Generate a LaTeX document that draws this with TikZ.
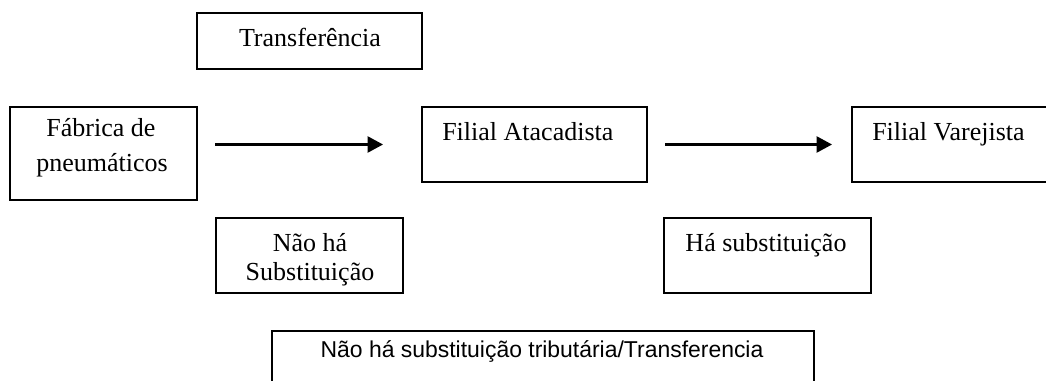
\documentclass[tikz,border=0pt]{standalone}
\usepackage{fontspec}
\setmainfont{Liberation Serif}
\newfontfamily\sansf{Liberation Sans}
\usetikzlibrary{arrows.meta}
\begin{document}
\begin{tikzpicture}[x=0.75pt,y=-0.75pt,
  box/.style={draw=black,line width=1.3pt,rectangle,inner sep=0pt,outer sep=0pt,anchor=north west},
  lbl/.style={inner sep=0pt,anchor=base,font=\fontsize{19.5}{23}\selectfont},
  lblw/.style={lbl,anchor=base west},
  slbl/.style={inner sep=0pt,anchor=base,font=\sansf\fontsize{17.2}{21}\selectfont},
  conn/.style={line width=1.7pt,-{Triangle[length=11.5pt,width=12pt]}}]
\useasboundingbox (0,0) rectangle (1046,381);
% boxes
\node[box,minimum width=168.75pt,minimum height=42pt] (trans) at (197,13) {};
\node[box,minimum width=140.25pt,minimum height=69.75pt] (fab) at (10,107) {};
\node[box,minimum width=168.75pt,minimum height=56.25pt] (ata) at (422,107) {};
\node[box,minimum width=165pt,minimum height=56.25pt] (var) at (852,107) {};
\node[box,minimum width=140.25pt,minimum height=56.25pt] (nao) at (216,218) {};
\node[box,minimum width=155.25pt,minimum height=56.25pt] (ha) at (664,218) {};
\node[box,minimum width=406.5pt,minimum height=52.5pt] (bot) at (272,331) {};
% texts
\node[lbl] (transT) at (310,47) {Transferência};
\node[lbl] (fabT1) at (101,137) {Fábrica de};
\node[lbl] (fabT2) at (102,172) {pneumáticos};
\node[lblw] (ataT) at (442,141) {Filial Atacadista};
\node[lblw] (varT) at (872,141) {Filial Varejista};
\node[lbl] (naoT1) at (310,252) {Não há};
\node[lbl] (naoT2) at (310,280) {Substituição};
\node[lbl] (haT) at (766,252) {Há substituição};
\node[slbl] (botT) at (542,357) {Não há substituição tributária/Transferencia};
% connectors
\draw[conn,shorten <=13.5pt,shorten >=29.25pt] (fab.east |- ata.west) -- (ata.west);
\draw[conn,shorten <=13.5pt,shorten >=15pt] (ata.east) -- (var.west);
\end{tikzpicture}
\end{document}
